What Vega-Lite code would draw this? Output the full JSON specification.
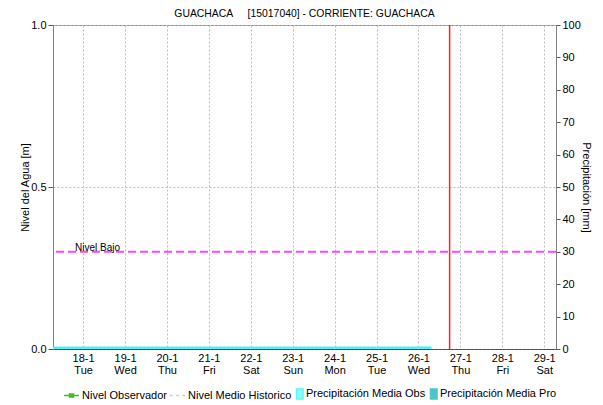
{
  "$schema": "https://vega.github.io/schema/vega-lite/v6.json",
  "width": 503,
  "height": 324,
  "autosize": "none",
  "padding": {"left": 53, "top": 25, "right": 47, "bottom": 56},
  "background": "white",
  "title": {
    "text": "GUACHACA\u00a0\u00a0\u00a0\u00a0 [15017040] - CORRIENTE: GUACHACA",
    "fontSize": 10.4,
    "fontWeight": "normal",
    "font": "Liberation Sans",
    "color": "#000000",
    "offset": 0,
    "anchor": "middle"
  },
  "datasets": {
    "precipitacion": [
      {"inicio": "2022-01-17T00:00:00", "fin": "2022-01-18T00:00:00", "precip": 0.8},
      {"inicio": "2022-01-18T00:00:00", "fin": "2022-01-19T00:00:00", "precip": 0.8},
      {"inicio": "2022-01-19T00:00:00", "fin": "2022-01-20T00:00:00", "precip": 0.8},
      {"inicio": "2022-01-20T00:00:00", "fin": "2022-01-21T00:00:00", "precip": 0.8},
      {"inicio": "2022-01-21T00:00:00", "fin": "2022-01-22T00:00:00", "precip": 0.8},
      {"inicio": "2022-01-22T00:00:00", "fin": "2022-01-23T00:00:00", "precip": 0.8},
      {"inicio": "2022-01-23T00:00:00", "fin": "2022-01-24T00:00:00", "precip": 0.8},
      {"inicio": "2022-01-24T00:00:00", "fin": "2022-01-25T00:00:00", "precip": 0.8},
      {"inicio": "2022-01-25T00:00:00", "fin": "2022-01-26T00:00:00", "precip": 0.8},
      {"inicio": "2022-01-26T00:00:00", "fin": "2022-01-26T07:30:00", "precip": 0.8}
    ],
    "umbrales": [
      {"nivel": "Nivel Bajo", "valor": 0.3, "fecha_etiqueta": "2022-01-17T19:20:00"}
    ],
    "corte": [
      {"fecha": "2022-01-26T17:50:00"}
    ],
    "series": [
      {"serie": "Nivel Observador"},
      {"serie": "Nivel Medio Historico"},
      {"serie": "Precipitación Media Obs"},
      {"serie": "Precipitación Media Pro"}
    ]
  },
  "layer": [
    {
      "data": {"name": "precipitacion"},
      "mark": {"type": "rect", "color": "#55EEF2", "clip": true},
      "encoding": {
        "x": {
          "field": "inicio",
          "type": "temporal",
          "title": null,
          "scale": {"domain": ["2022-01-17T06:45:00", "2022-01-29T06:45:00"]},
          "axis": {
            "tickCount": {"interval": "day", "step": 1},
            "labelExpr": "[timeFormat(datum.value, '%-d-%-m'), timeFormat(datum.value, '%a')]",
            "labelLineHeight": 12,
            "ticks": false,
            "labelPadding": 3,
            "grid": true,
            "gridColor": "#bbbbbb",
            "gridDash": [2, 2],
            "domainColor": "#000000",
            "domainDash": [1, 1],
            "labelFlush": false,
            "labelOverlap": false
          }
        },
        "x2": {"field": "fin"},
        "y": {
          "field": "precip",
          "type": "quantitative",
          "title": "Precipitación [mm]",
          "scale": {"domain": [0, 100], "nice": false, "zero": true},
          "axis": {
            "orient": "right",
            "values": [0, 10, 20, 30, 40, 50, 60, 70, 80, 90, 100],
            "format": "d",
            "grid": false,
            "tickSize": 4,
            "labelPadding": 2,
            "titlePadding": 0,
            "titleAngle": 90
          }
        },
        "y2": {"datum": 0}
      }
    },
    {
      "layer": [
        {
          "data": {"name": "umbrales"},
          "mark": {"type": "rule", "color": "#FF44FF", "strokeWidth": 2, "strokeDash": [8, 4]},
          "encoding": {
            "y": {
              "field": "valor",
              "type": "quantitative",
              "title": "Nivel del Agua [m]",
              "scale": {"domain": [0, 1]},
              "axis": {
                "orient": "left",
                "values": [0, 0.5, 1],
                "format": ".1f",
                "grid": true,
                "gridColor": "#bbbbbb",
                "gridDash": [2, 2],
                "tickSize": 5,
                "labelPadding": 2,
                "titlePadding": 0
              }
            }
          }
        },
        {
          "data": {"name": "umbrales"},
          "mark": {"type": "text", "align": "left", "baseline": "alphabetic", "dy": -1, "fontSize": 10, "font": "Liberation Sans", "color": "#000000"},
          "encoding": {
            "x": {"field": "fecha_etiqueta", "type": "temporal", "title": null},
            "y": {"field": "valor", "type": "quantitative"},
            "text": {"field": "nivel"}
          }
        },
        {
          "data": {"name": "corte"},
          "mark": {"type": "rule", "color": "#FF2020", "strokeWidth": 1.5},
          "encoding": {
            "x": {"field": "fecha", "type": "temporal", "title": null}
          }
        },
        {
          "data": {"name": "series"},
          "mark": {"type": "point", "filled": true, "opacity": 0},
          "encoding": {
            "fill": {
              "field": "serie",
              "type": "nominal",
              "scale": {
                "domain": ["Nivel Observador", "Nivel Medio Historico", "Precipitación Media Obs", "Precipitación Media Pro"],
                "range": ["#44BB22", "#c8c8c8", "#80FFFF", "#48C8C8"]
              },
              "legend": {"title": null}
            },
            "stroke": {
              "field": "serie",
              "type": "nominal",
              "scale": {
                "domain": ["Nivel Observador", "Nivel Medio Historico", "Precipitación Media Obs", "Precipitación Media Pro"],
                "range": ["#44BB22", "#c8c8c8", "#66F2F2", "#48C8C8"]
              },
              "legend": {"title": null}
            },
            "shape": {
              "field": "serie",
              "type": "nominal",
              "scale": {
                "domain": ["Nivel Observador", "Nivel Medio Historico", "Precipitación Media Obs", "Precipitación Media Pro"],
                "range": [
                  "M-2,0H1M-0.9,-0.3H-0.1V0.3H-0.9Z",
                  "M-2,0H-1.5M-0.75,0H-0.25M0.5,0H1",
                  "M-0.3,-1H1V1H-0.3Z",
                  "M-0.3,-1H1V1H-0.3Z"
                ]
              },
              "legend": {"title": null}
            }
          }
        }
      ]
    }
  ],
  "resolve": {"scale": {"y": "independent"}},
  "config": {
    "font": "Liberation Sans",
    "view": {"stroke": "#888888", "strokeWidth": 1},
    "axis": {
      "labelFont": "Liberation Sans",
      "labelFontSize": 11,
      "labelColor": "#000000",
      "titleFont": "Liberation Sans",
      "titleFontSize": 11,
      "titleFontWeight": "normal",
      "titleColor": "#000000",
      "domainColor": "#808080",
      "tickColor": "#555555"
    },
    "legend": {
      "orient": "none",
      "legendX": 15,
      "legendY": 363,
      "direction": "horizontal",
      "padding": 0,
      "labelFont": "Liberation Sans",
      "labelFontSize": 11,
      "labelColor": "#000000",
      "symbolSize": 100,
      "symbolStrokeWidth": 1.5,
      "symbolOpacity": 1,
      "columnPadding": 0,
      "labelOffset": 2
    }
  }
}
